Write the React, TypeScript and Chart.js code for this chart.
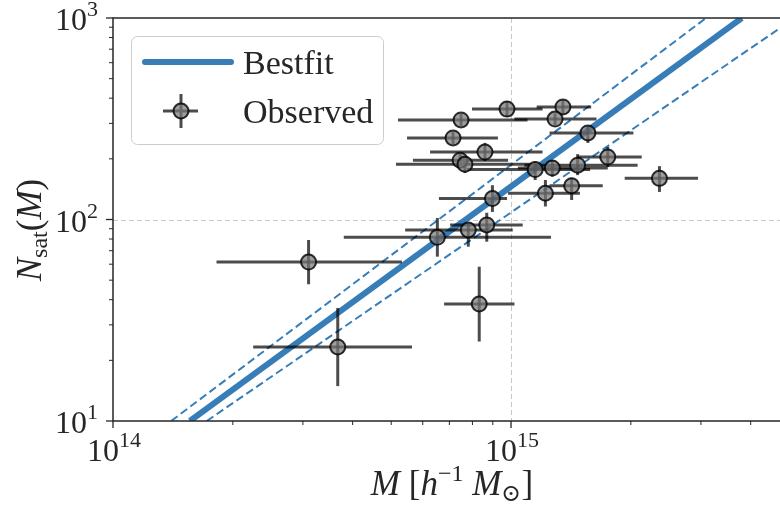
import React, { useEffect, useRef } from "react";
import { Chart, registerables } from "chart.js";
Chart.register(...registerables);

const FONT = '"Liberation Serif", "DejaVu Serif", serif';
const BLUE = "#377eb8";
const INK = "#262626";
const MARKER_FILL = "rgba(120,120,120,0.72)";
const MARKER_EDGE = "rgba(0,0,0,0.8)";
const BAR_COLOR = "rgba(0,0,0,0.7)";

// Observed clusters (mass in h^-1 Msun, satellite counts)
const massObs = [9.77e14, 1.35e15, 1.29e15, 7.49e14, 7.15e14, 1.56e15, 8.6e14, 7.45e14, 7.66e14, 1.15e15, 1.27e15, 1.47e15, 1.75e15, 2.36e15, 1.42e15, 1.22e15, 8.98e14, 8.69e14, 7.81e14, 6.53e14, 3.1e14, 8.32e14, 3.67e14];
const massLo = [7.98e14, 1.16e15, 1.02e15, 5.2e14, 5.48e14, 1.25e15, 6.26e14, 5.67e14, 5.14e14, 7.75e14, 1.04e15, 1.08e15, 1.47e15, 1.93e15, 1.25e15, 9.83e14, 6.59e14, 7.03e14, 5.42e14, 3.8e14, 1.82e14, 6.79e14, 2.25e14];
const massHi = [1.2e15, 1.59e15, 1.64e15, 1.1e15, 9.27e14, 2.03e15, 1.2e15, 9.83e14, 1.12e15, 1.58e15, 1.75e15, 2.08e15, 2.13e15, 2.95e15, 1.7e15, 1.49e15, 9.77e14, 1.07e15, 1.01e15, 1.26e15, 5.32e14, 1.02e15, 5.64e14];
const nsatObs = [353, 362, 315, 312, 254, 269, 216, 197, 188, 177, 180, 186, 204, 160, 147, 135, 127, 94, 88.7, 81.6, 61.5, 38.1, 23.3];
const nsatLo = [323, 334, 294, 291, 237, 240, 195, 184, 170, 157, 163, 166, 182, 137, 125, 116, 109, 77.6, 73.3, 65.4, 47.7, 24.8, 14.9];
const nsatHi = [387, 392, 337, 334, 272, 291, 240, 211, 207, 194, 197, 211, 229, 184, 161, 157, 148, 108, 96.1, 101.7, 79.1, 58.3, 36.4];

// Best-fit relation and its band (end points)
const fitMass = [1.56e14, 3.8e15];
const fitN = [10, 1000];
const fitUpperMass = [1.4e14, 3.09e15];
const fitUpperN = [10, 1000];
const fitLowerMass = [1.72e14, 4.74e15];
const fitLowerN = [10, 891];

// Axes
const xMin = 1e14;
const xMax = 4.74e15;
const yMin = 10;
const yMax = 1000;
const xMajor = [1e14, 1e15];
const xMajorExp = ["14", "15"];
const xMinor = [2e14, 3e14, 4e14, 5e14, 6e14, 7e14, 8e14, 9e14, 2e15, 3e15, 4e15];
const yMajor = [10, 100, 1000];
const yMajorExp = ["1", "2", "3"];
const yMinor = [20, 30, 40, 50, 60, 70, 80, 90, 200, 300, 400, 500, 600, 700, 800, 900];

type Part = { t: string; font: string; dy?: number };

function partsWidth(ctx: CanvasRenderingContext2D, parts: Part[]) {
  let w = 0;
  for (const p of parts) {
    ctx.font = p.font;
    w += ctx.measureText(p.t).width;
  }
  return w;
}

function drawParts(ctx: CanvasRenderingContext2D, parts: Part[], x: number, y: number, align: "left" | "center" | "right") {
  const w = partsWidth(ctx, parts);
  let cx = align === "left" ? x : align === "center" ? x - w / 2 : x - w;
  ctx.textAlign = "left";
  ctx.textBaseline = "alphabetic";
  for (const p of parts) {
    ctx.font = p.font;
    ctx.fillText(p.t, cx, y + (p.dy || 0));
    cx += ctx.measureText(p.t).width;
  }
}

const TICK = `32px ${FONT}`;
const TICKSUP = `22px ${FONT}`;
const TITLE = `35px ${FONT}`;
const TITLEI = `italic 35px ${FONT}`;
const TITLESM = `24px ${FONT}`;
const LEG = `34px ${FONT}`;

const decorPlugin = {
  id: "decor",
  beforeDatasetsDraw(chart: any) {
    const ctx: CanvasRenderingContext2D = chart.ctx;
    const { left, right, top, bottom } = chart.chartArea;
    const xs = chart.scales.x;
    const ys = chart.scales.y;
    ctx.save();
    ctx.strokeStyle = "#c8c8c8";
    ctx.lineWidth = 1;
    ctx.setLineDash([5, 3]);
    for (const v of xMajor) {
      const px = Math.round(xs.getPixelForValue(v)) + 0.5;
      if (px <= left + 1) continue;
      ctx.beginPath();
      ctx.moveTo(px, top);
      ctx.lineTo(px, bottom);
      ctx.stroke();
    }
    for (const v of yMajor) {
      const py = Math.round(ys.getPixelForValue(v)) + 0.5;
      if (py >= bottom - 1 || py <= top + 1) continue;
      ctx.beginPath();
      ctx.moveTo(left, py);
      ctx.lineTo(right, py);
      ctx.stroke();
    }
    ctx.restore();
  },
  beforeDatasetDraw(chart: any, args: any) {
    if (args.index !== 0) return;
    const ctx: CanvasRenderingContext2D = chart.ctx;
    const xs = chart.scales.x;
    const ys = chart.scales.y;
    ctx.save();
    ctx.strokeStyle = BAR_COLOR;
    ctx.lineWidth = 3;
    for (let i = 0; i < massObs.length; i++) {
      const px = xs.getPixelForValue(massObs[i]);
      const py = ys.getPixelForValue(nsatObs[i]);
      ctx.beginPath();
      ctx.moveTo(xs.getPixelForValue(massLo[i]), py);
      ctx.lineTo(xs.getPixelForValue(massHi[i]), py);
      ctx.stroke();
      ctx.beginPath();
      ctx.moveTo(px, ys.getPixelForValue(nsatLo[i]));
      ctx.lineTo(px, ys.getPixelForValue(nsatHi[i]));
      ctx.stroke();
    }
    ctx.restore();
  },
  afterDraw(chart: any) {
    const ctx: CanvasRenderingContext2D = chart.ctx;
    const { left, right, top, bottom } = chart.chartArea;
    const xs = chart.scales.x;
    const ys = chart.scales.y;
    ctx.save();
    // spines
    ctx.strokeStyle = INK;
    ctx.lineWidth = 1.5;
    ctx.setLineDash([]);
    ctx.beginPath();
    ctx.moveTo(right, top);
    ctx.lineTo(left, top);
    ctx.lineTo(left, bottom);
    ctx.lineTo(right, bottom);
    ctx.stroke();
    // ticks
    ctx.lineWidth = 1.3;
    for (const v of xMajor) {
      const px = xs.getPixelForValue(v);
      ctx.beginPath();
      ctx.moveTo(px, bottom);
      ctx.lineTo(px, bottom + 7);
      ctx.stroke();
    }
    for (const v of yMajor) {
      const py = ys.getPixelForValue(v);
      ctx.beginPath();
      ctx.moveTo(left, py);
      ctx.lineTo(left - 7, py);
      ctx.stroke();
    }
    ctx.lineWidth = 1;
    for (const v of xMinor) {
      const px = xs.getPixelForValue(v);
      ctx.beginPath();
      ctx.moveTo(px, bottom);
      ctx.lineTo(px, bottom + 4);
      ctx.stroke();
    }
    for (const v of yMinor) {
      const py = ys.getPixelForValue(v);
      ctx.beginPath();
      ctx.moveTo(left, py);
      ctx.lineTo(left - 4, py);
      ctx.stroke();
    }
    // tick labels
    ctx.fillStyle = INK;
    xMajor.forEach((v, i) => {
      const px = xs.getPixelForValue(v);
      drawParts(ctx, [{ t: "10", font: TICK }, { t: xMajorExp[i], font: TICKSUP, dy: -14 }], px + 1, bottom + 40, "center");
    });
    yMajor.forEach((v, i) => {
      const py = ys.getPixelForValue(v);
      drawParts(ctx, [{ t: "10", font: TICK }, { t: yMajorExp[i], font: TICKSUP, dy: -14 }], left - 15, py + 12, "right");
    });
    // x title
    drawParts(
      ctx,
      [
        { t: "M", font: TITLEI },
        { t: " [", font: TITLE },
        { t: "h", font: TITLEI },
        { t: "\u22121", font: TITLESM, dy: -14 },
        { t: " ", font: TITLE },
        { t: "M", font: TITLEI },
        { t: "\u2299", font: TITLESM, dy: 6 },
        { t: "]", font: TITLE },
      ],
      452,
      495,
      "center"
    );
    // y title
    ctx.save();
    ctx.translate(41, 230);
    ctx.rotate(-Math.PI / 2);
    drawParts(
      ctx,
      [
        { t: "N", font: TITLEI },
        { t: "sat", font: TITLESM, dy: 6 },
        { t: "(", font: TITLE },
        { t: "M", font: TITLEI },
        { t: ")", font: TITLE },
      ],
      0,
      0,
      "center"
    );
    ctx.restore();
    // legend
    ctx.beginPath();
    (ctx as any).roundRect(131.5, 36.5, 252, 108, 6);
    ctx.fillStyle = "rgba(255,255,255,0.8)";
    ctx.fill();
    ctx.strokeStyle = "#cccccc";
    ctx.lineWidth = 1;
    ctx.stroke();
    ctx.strokeStyle = BLUE;
    ctx.lineWidth = 6;
    ctx.lineCap = "round";
    ctx.beginPath();
    ctx.moveTo(145, 62);
    ctx.lineTo(231, 62);
    ctx.stroke();
    ctx.lineCap = "butt";
    ctx.strokeStyle = BAR_COLOR;
    ctx.lineWidth = 3;
    ctx.beginPath();
    ctx.moveTo(163, 111);
    ctx.lineTo(198, 111);
    ctx.moveTo(181, 94);
    ctx.lineTo(181, 128);
    ctx.stroke();
    ctx.beginPath();
    ctx.arc(181, 111, 7.5, 0, Math.PI * 2);
    ctx.fillStyle = MARKER_FILL;
    ctx.fill();
    ctx.strokeStyle = MARKER_EDGE;
    ctx.lineWidth = 2;
    ctx.stroke();
    ctx.fillStyle = INK;
    drawParts(ctx, [{ t: "Bestfit", font: LEG }], 243, 74, "left");
    drawParts(ctx, [{ t: "Observed", font: LEG }], 243, 123, "left");
    ctx.restore();
  },
};

export default function App() {
  const ref = useRef<HTMLCanvasElement | null>(null);
  useEffect(() => {
    document.body.style.margin = "0";
    if (!ref.current) return;
    const pts = massObs.map((m, i) => ({ x: m, y: nsatObs[i] }));
    const line = (xs: number[], ys: number[]) => xs.map((m, i) => ({ x: m, y: ys[i] }));
    const chart = new Chart(ref.current, {
      type: "scatter",
      data: {
        datasets: [
          {
            label: "Observed",
            data: pts,
            pointRadius: 7.5,
            pointHoverRadius: 7.5,
            pointBackgroundColor: MARKER_FILL,
            pointBorderColor: MARKER_EDGE,
            pointBorderWidth: 2,
            showLine: false,
            order: 0,
          } as any,
          {
            label: "Bestfit",
            type: "line",
            data: line(fitMass, fitN),
            borderColor: BLUE,
            borderWidth: 6,
            pointRadius: 0,
            fill: false,
            order: 1,
          } as any,
          {
            label: "upper",
            type: "line",
            data: line(fitUpperMass, fitUpperN),
            borderColor: BLUE,
            borderWidth: 2,
            borderDash: [8, 4],
            pointRadius: 0,
            fill: false,
            order: 2,
          } as any,
          {
            label: "lower",
            type: "line",
            data: line(fitLowerMass, fitLowerN),
            borderColor: BLUE,
            borderWidth: 2,
            borderDash: [8, 4],
            pointRadius: 0,
            fill: false,
            order: 3,
          } as any,
        ],
      },
      options: {
        animation: false,
        responsive: false,
        devicePixelRatio: 1,
        layout: { autoPadding: false, padding: { left: 113, right: 0, top: 18, bottom: 92 } },
        plugins: { legend: { display: false }, tooltip: { enabled: false } },
        scales: {
          x: { type: "logarithmic", min: xMin, max: xMax, display: false },
          y: { type: "logarithmic", min: yMin, max: yMax, display: false },
        },
      } as any,
      plugins: [decorPlugin as any],
    });
    return () => chart.destroy();
  }, []);
  return (
    <div style={{ position: "absolute", left: 0, top: 0, width: 780, height: 513, background: "#fff" }}>
      <canvas ref={ref} width={780} height={513} style={{ display: "block" }} />
    </div>
  );
}
